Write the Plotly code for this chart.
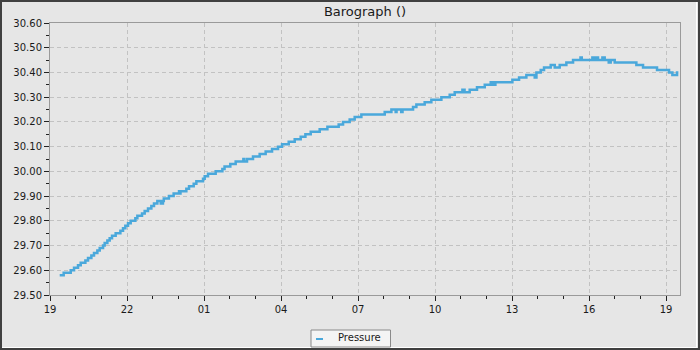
import plotly.graph_objects as go
import pandas as pd

# ---- data (minutes after 19:00 on day 1, barometric pressure inHg), step readings
start = pd.Timestamp("2024-01-15 19:00")
minutes = [22.7, 32.0, 48.4, 56.2, 65.5, 71.8, 82.7, 88.9, 96.7, 102.9,
           110.7, 116.2, 124.0, 127.8, 134.1, 139.5, 145.0, 153.5, 164.5, 170.7,
           176.1, 182.4, 188.6, 199.5, 204.2, 215.1, 221.3, 229.1, 236.9, 243.1,
           250.9, 259.0, 264.0, 266.0, 278.0, 289.0, 301.6, 303.0, 305.0, 318.7,
           325.0, 335.9, 342.1, 357.7, 361.6, 369.4, 387.3, 402.9, 408.0, 421.5,
           434.0, 452.0, 454.0, 460.5, 474.5, 490.1, 504.1, 519.0, 533.0, 542.4,
           558.0, 572.0, 586.0, 597.0, 609.4, 630.4, 648.4, 674.8, 685.0, 700.5,
           712.2, 727.8, 782.4, 798.0, 808.0, 810.0, 821.0, 824.0, 848.6, 856.4,
           875.8, 891.4, 914.8, 934.3, 946.0, 964.0, 969.0, 981.0, 998.1, 1016.2,
           1030.2, 1035.6, 1041.1, 1080.8, 1096.4, 1113.5, 1133.0, 1137.0, 1147.0, 1154.8,
           1170.4, 1179.8, 1191.4, 1207.0, 1222.6, 1240.0, 1243.0, 1267.8, 1273.3, 1275.6,
           1281.0, 1291.2, 1296.6, 1306.0, 1310.6, 1320.0, 1370.6, 1386.2, 1418.9, 1447.0,
           1454.8, 1465.7, 1468.8]
pressure = [29.58, 29.59, 29.60, 29.61, 29.62, 29.63, 29.64, 29.65, 29.66, 29.67,
            29.68, 29.69, 29.70, 29.71, 29.72, 29.73, 29.74, 29.75, 29.76, 29.77,
            29.78, 29.79, 29.80, 29.81, 29.82, 29.83, 29.84, 29.85, 29.86, 29.87,
            29.88, 29.87, 29.88, 29.89, 29.90, 29.91, 29.92, 29.91, 29.92, 29.93,
            29.94, 29.95, 29.96, 29.97, 29.98, 29.99, 30.00, 30.01, 30.02, 30.03,
            30.04, 30.05, 30.04, 30.05, 30.06, 30.07, 30.08, 30.09, 30.10, 30.11,
            30.12, 30.13, 30.14, 30.15, 30.16, 30.17, 30.18, 30.19, 30.20, 30.21,
            30.22, 30.23, 30.24, 30.25, 30.24, 30.25, 30.24, 30.25, 30.26, 30.27,
            30.28, 30.29, 30.30, 30.31, 30.32, 30.33, 30.32, 30.33, 30.34, 30.35,
            30.36, 30.35, 30.36, 30.37, 30.38, 30.39, 30.38, 30.40, 30.41, 30.42,
            30.43, 30.42, 30.43, 30.44, 30.45, 30.46, 30.45, 30.46, 30.45, 30.46,
            30.45, 30.46, 30.45, 30.44, 30.45, 30.44, 30.43, 30.42, 30.41, 30.40,
            30.39, 30.40, 30.40]
series_name = "Pressure"
x_range_minutes = [0, 1472.6]
y_range = [29.50, 30.60]
y_ticks = [29.50, 29.60, 29.70, 29.80, 29.90, 30.00, 30.10, 30.20, 30.30, 30.40, 30.50, 30.60]

times = [start + pd.Timedelta(minutes=m) for m in minutes]
xr = [start + pd.Timedelta(minutes=m) for m in x_range_minutes]

W, H = 700, 350
ML, MR, MT, MB = 50, 20, 23, 55
PW, PH = W - ML - MR, H - MT - MB
fx = lambda px: (px - ML) / PW
fy = lambda py: (H - MB - py) / PH

FONT = "DejaVu Sans"
LINE_COLOR = "#4aa8db"
fig = go.Figure()
fig.add_trace(go.Scatter(
    x=times, y=pressure, mode="lines", name=series_name,
    line=dict(color=LINE_COLOR, width=2.5, shape="hv"),
))

fig.update_layout(
    width=W, height=H,
    margin=dict(l=ML, r=MR, t=MT, b=MB, autoexpand=False),
    paper_bgcolor="#e6e6e6", plot_bgcolor="#e6e6e6",
    font=dict(family=FONT, size=10, color="#1a1a1a"),
    title=dict(text="Barograph ()", x=0.5, xanchor="center", xref="paper",
               y=1 - 11 / H, yanchor="middle", yref="container",
               font=dict(family=FONT, size=13, color="#1a1a1a")),
    showlegend=False,
)
fig.update_xaxes(
    type="date", range=xr, tick0=start, dtick=3 * 3600 * 1000, tickformat="%H",
    showgrid=True, gridcolor="#c2c2c2", griddash="4px,3px", gridwidth=1,
    showline=True, linecolor="#9a9a9a", linewidth=1, mirror=True,
    ticks="outside", ticklen=5, tickcolor="#222", tickwidth=1,
    minor=dict(ticks="outside", ticklen=3, tickcolor="#222", dtick=3600 * 1000, showgrid=False),
    zeroline=False, tickfont=dict(size=10),
)
fig.update_yaxes(
    range=y_range, tickvals=y_ticks, tickformat=".2f",
    showgrid=True, gridcolor="#c2c2c2", griddash="4px,3px", gridwidth=1,
    showline=True, linecolor="#9a9a9a", linewidth=1, mirror=True,
    ticks="outside", ticklen=5, tickcolor="#222", tickwidth=1,
    minor=dict(ticks="outside", ticklen=3, tickcolor="#222", dtick=0.05, showgrid=False),
    zeroline=False, tickfont=dict(size=10),
)

# legend box (drawn by hand to match the compact original)
fig.add_shape(type="rect", xref="paper", yref="paper",
              x0=fx(311), x1=fx(390.5), y0=fy(347), y1=fy(330),
              line=dict(color="#8a8a8a", width=1), fillcolor="#f4f4f4", layer="above")
fig.add_shape(type="line", xref="paper", yref="paper",
              x0=fx(316), x1=fx(323), y0=fy(339), y1=fy(339),
              line=dict(color=LINE_COLOR, width=2), layer="above")
fig.add_annotation(text=series_name, xref="paper", yref="paper",
                   x=fx(336), y=fy(337.5), xanchor="left", yanchor="middle",
                   showarrow=False, font=dict(family=FONT, size=10, color="#1a1a1a"))

# window frame (dark outer border with light bevel bottom/right)
fig.add_shape(type="line", xref="paper", yref="paper",
              x0=fx(2), x1=fx(697), y0=fy(347.5), y1=fy(347.5),
              line=dict(color="#ffffff", width=1), layer="below")
fig.add_shape(type="line", xref="paper", yref="paper",
              x0=fx(696.5), x1=fx(696.5), y0=fy(348), y1=fy(2),
              line=dict(color="#ffffff", width=1), layer="below")
fig.add_shape(type="rect", xref="paper", yref="paper",
              x0=fx(1), x1=fx(699), y0=fy(349), y1=fy(1),
              line=dict(color="#404040", width=2), fillcolor="rgba(0,0,0,0)", layer="above")

fig.write_html("out.html")
